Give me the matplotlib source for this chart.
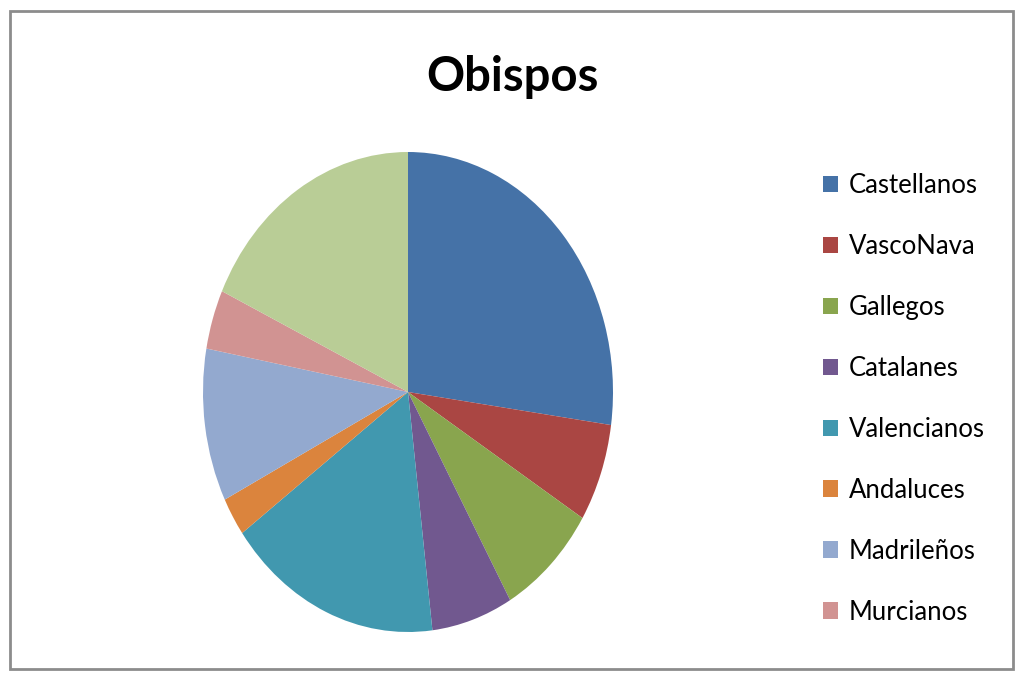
import matplotlib.pyplot as plt
from matplotlib.patches import Rectangle, Patch

# share of bishops by origin (percent)
regions = ["Castellanos", "VascoNava", "Gallegos", "Catalanes", "Valencianos",
           "Andaluces", "Madrileños", "Murcianos", "Otros"]
values = [27.2, 6.6, 7.9, 6.4, 16.9, 2.6, 10.3, 4.0, 18.1]
colors = ["#4572A7", "#AA4643", "#89A54E", "#71588F", "#4198AF",
          "#DB843D", "#93A9CF", "#D19392", "#B9CD96"]
legend_count = 8  # only the first 8 show in the legend

plt.rcParams['font.family'] = ['Lato', 'DejaVu Sans']

fig = plt.figure(figsize=(10.24, 6.84), dpi=100)

# outer chart border
fig.patches.append(Rectangle((10 / 1024, 15 / 684), 1003 / 1024, 658 / 684,
                             transform=fig.transFigure, fill=False,
                             edgecolor="#8c8c8c", linewidth=2))

ax = fig.add_axes([203 / 1024, 52 / 684, 410 / 1024, 480 / 684])
ax.pie(values, colors=colors, startangle=90, counterclock=False,
       wedgeprops=dict(linewidth=0))
ax.set_aspect('auto')
ax.set_xlim(-1, 1)
ax.set_ylim(-1, 1)

fig.text(512 / 1024, 1 - 77 / 684, "Obispos", ha="center", va="center",
         fontsize=34, fontweight="bold")

handles = [Patch(facecolor=c, edgecolor="none") for c in colors[:legend_count]]
fig.legend(handles, regions[:legend_count], loc="upper left",
           bbox_to_anchor=(810 / 1024, 1 - 160 / 684), frameon=False,
           fontsize=18.5, handlelength=0.6, handleheight=0.6,
           handletextpad=0.4, labelspacing=1.40, borderpad=0)

fig.savefig("out.png", dpi=100)
